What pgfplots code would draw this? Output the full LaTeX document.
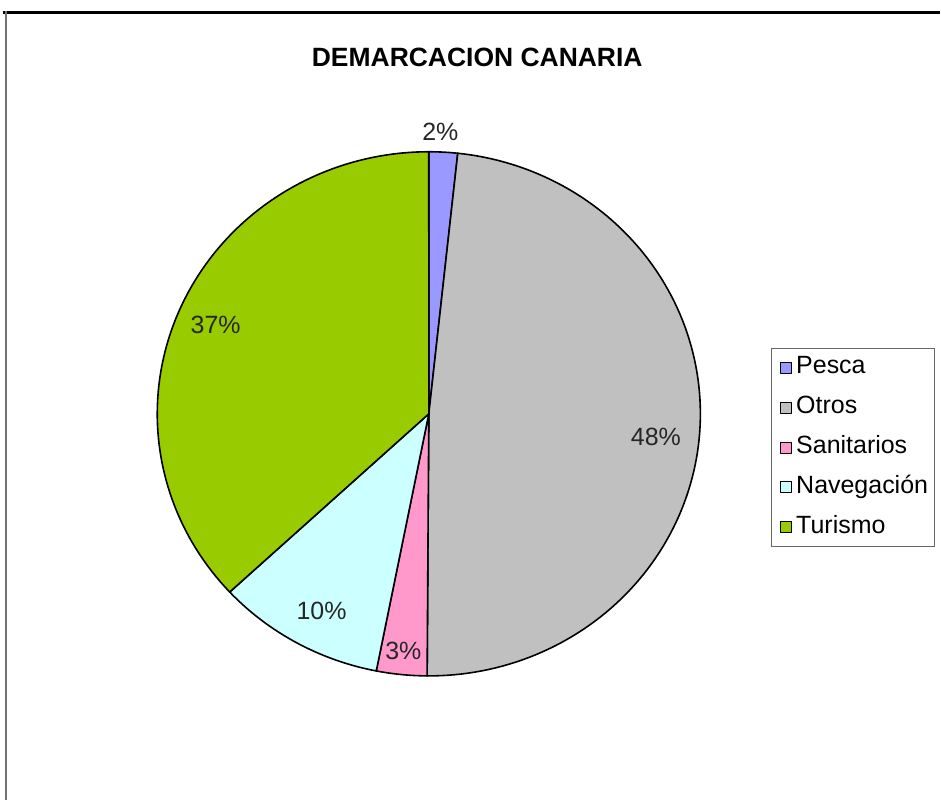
\documentclass[border=0pt]{standalone}
\usepackage{fontspec}
\setmainfont{Liberation Sans}
\usepackage{pgfplots}
\pgfplotsset{compat=1.18}
\definecolor{cPesca}{HTML}{9999FF}
\definecolor{cOtros}{HTML}{C0C0C0}
\definecolor{cSanit}{HTML}{FF99CC}
\definecolor{cNaveg}{HTML}{CCFFFF}
\definecolor{cTuris}{HTML}{99CC00}
% shares (%): Pesca 1.7, Otros 48.4, Sanitarios 3.0, Navegacion 10.0, Turismo 36.9
% cumulative angles (deg, clockwise from top): 0, 6.12, 180.36, 191.16, 227.16, 360
\begin{document}
\begin{tikzpicture}
\begin{axis}[
  scale only axis, width=941pt, height=801pt,
  xmin=0, xmax=941, ymin=0, ymax=801,
  hide axis, clip=false,
  legend style={at={(axis cs:772,452)}, anchor=north west,
    draw=black!60, line width=1pt,
    font=\fontsize{25}{29}\selectfont,
    nodes={text height=17.5pt, text depth=6pt, inner sep=2pt},
    row sep=12.5pt, inner xsep=4pt, inner ysep=5pt,
    cells={anchor=west}},
  legend image code/.code={\draw[#1,line width=1pt] (5pt,-5.5pt) rectangle (16pt,5.5pt);
    \path[draw=none,fill=none] (0pt,0pt) (19pt,0pt);},
]
\path (axis cs:0,0) rectangle (axis cs:941,801);
\addplot[fill=cPesca, draw=black, line width=1.6pt, line join=round, domain=0:6.12, samples=8, variable=\t]
  ({429.5+272*sin(\t)},{386.5+262.5*cos(\t)}) -- (axis cs:429.5,386.5) -- cycle;
\addlegendentry{Pesca}
\addplot[fill=cOtros, draw=black, line width=1.6pt, line join=round, domain=6.12:180.36, samples=120, variable=\t]
  ({429.5+272*sin(\t)},{386.5+262.5*cos(\t)}) -- (axis cs:429.5,386.5) -- cycle;
\addlegendentry{Otros}
\addplot[fill=cSanit, draw=black, line width=1.6pt, line join=round, domain=180.36:191.16, samples=10, variable=\t]
  ({429.5+272*sin(\t)},{386.5+262.5*cos(\t)}) -- (axis cs:429.5,386.5) -- cycle;
\addlegendentry{Sanitarios}
\addplot[fill=cNaveg, draw=black, line width=1.6pt, line join=round, domain=191.16:227.16, samples=30, variable=\t]
  ({429.5+272*sin(\t)},{386.5+262.5*cos(\t)}) -- (axis cs:429.5,386.5) -- cycle;
\addlegendentry{Navegación}
\addplot[fill=cTuris, draw=black, line width=1.6pt, line join=round, domain=227.16:360, samples=90, variable=\t]
  ({429.5+272*sin(\t)},{386.5+262.5*cos(\t)}) -- (axis cs:429.5,386.5) -- cycle;
\addlegendentry{Turismo}
% frame
\draw[black, line width=3pt] (axis cs:3,788.5) -- (axis cs:941,788.5);
\draw[black!55, line width=2pt] (axis cs:6,790) -- (axis cs:6,0);
% title
\node[font=\bfseries\fontsize{26.5}{31}\selectfont] at (axis cs:478,744) {DEMARCACION CANARIA};
% labels
\begin{scope}[every node/.style={font=\fontsize{25}{30}\selectfont, text=black!85}]
\node at (axis cs:441,669) {2\%};
\node at (axis cs:657,363) {48\%};
\node at (axis cs:404,149) {3\%};
\node at (axis cs:322,189) {10\%};
\node at (axis cs:216,476) {37\%};
\end{scope}
\end{axis}
\end{tikzpicture}
\end{document}
